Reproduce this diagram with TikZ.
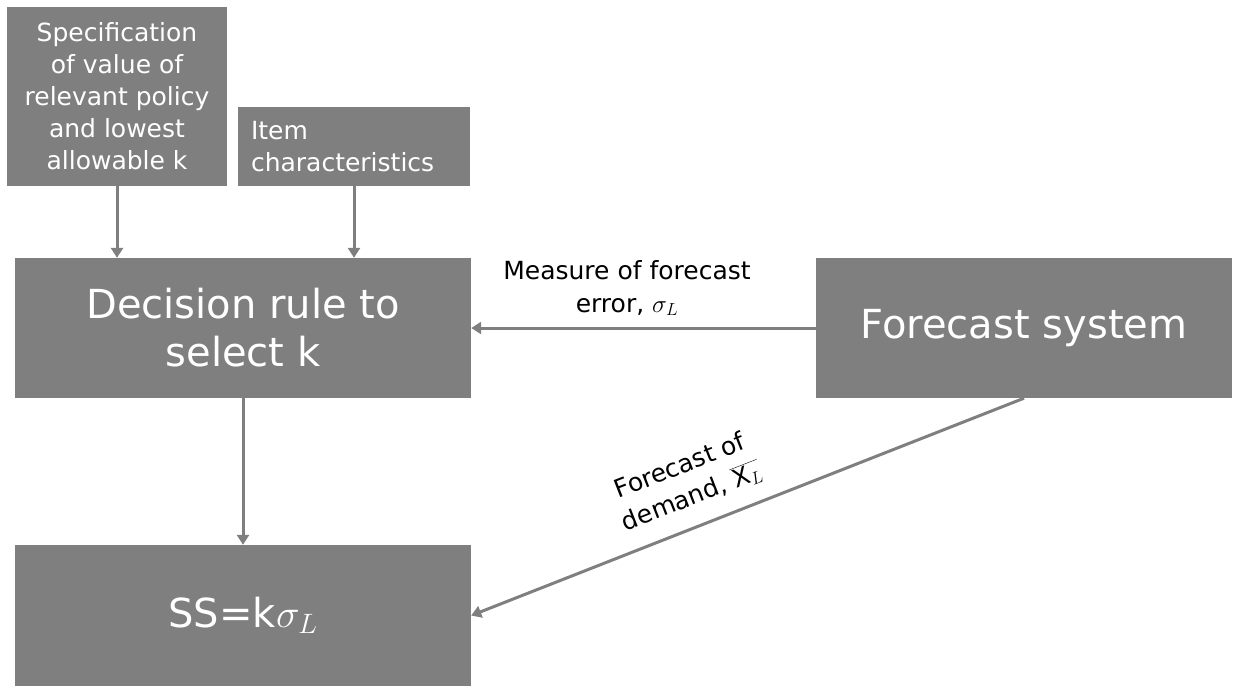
\documentclass[tikz,border=0pt]{standalone}
\usepackage{fix-cm}
\usepackage{fontspec}
\setmainfont{DejaVu Sans}
\usetikzlibrary{arrows.meta}
\definecolor{boxgray}{HTML}{7F7F7F}
\begin{document}
\begin{tikzpicture}[x=1pt,y=-1pt,
  box/.style={fill=boxgray, draw=none, text=white, inner sep=0pt, align=center},
  smalltext/.style={font=\fontsize{25}{32}\selectfont},
  bigtext/.style={font=\fontsize{40}{48}\selectfont},
  labeltext/.style={font=\fontsize{25}{33}\selectfont, text=black, align=center, inner sep=0pt},
  flow/.style={draw=boxgray, line width=3pt, -{Triangle[width=12pt,length=10pt]}}
]
\useasboundingbox (0,0) rectangle (1233,686);

% input boxes
\node[box, smalltext, minimum width=220pt, minimum height=179pt] (spec) at (117,96.5)
  {Specification\\of value of\\relevant policy\\and lowest\\allowable k};
\node[box, smalltext, minimum width=232pt, minimum height=79pt, text width=206pt, align=left] (item) at (354,146.5)
  {Item\\characteristics};

% main boxes
\node[box, bigtext, minimum width=456pt, minimum height=140pt] (rule) at (243,328)
  {Decision rule to\\select k};
\node[box, bigtext, minimum width=416pt, minimum height=140pt] (fcst) at (1024,328)
  {Forecast system};
\node[box, bigtext, minimum width=456pt, minimum height=141pt] (ss) at (243,615.5)
  {SS=k$\sigma_L$};

% connectors
\draw[flow] (spec.south) -- (spec.south |- rule.north);
\draw[flow] (item.south) -- (item.south |- rule.north);
\draw[flow] (fcst.west) -- (rule.east);
\draw[flow] (rule.south) -- (ss.north);
\draw[flow] (fcst.south) -- (ss.east);

% connector labels
\node[labeltext] (errlbl) at (627,288) {Measure of forecast\\error, $\sigma_L$};
\node[labeltext, rotate=21.3] (demlbl) at (686,482) {Forecast of\\demand, $\overline{\mathrm{X}_L}$};
\end{tikzpicture}
\end{document}
